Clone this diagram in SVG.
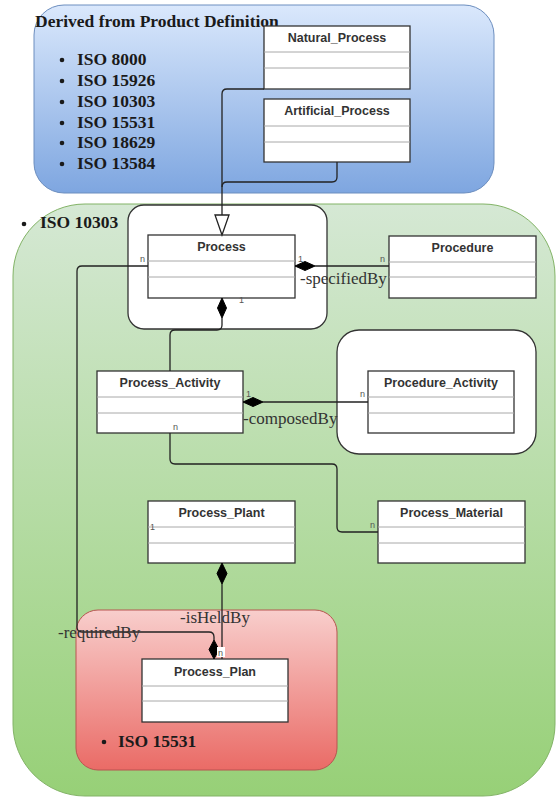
<svg xmlns="http://www.w3.org/2000/svg" width="557" height="797" viewBox="0 0 557 797">
  <defs>
    <linearGradient id="gBlue" x1="0" y1="0" x2="0" y2="1">
      <stop offset="0" stop-color="#dae8fc"/>
      <stop offset="1" stop-color="#7ea6e0"/>
    </linearGradient>
    <linearGradient id="gGreen" x1="0" y1="0" x2="0" y2="1">
      <stop offset="0" stop-color="#d5e8d4"/>
      <stop offset="1" stop-color="#97d077"/>
    </linearGradient>
    <linearGradient id="gRed" x1="0" y1="0" x2="0" y2="1">
      <stop offset="0" stop-color="#f8cecc"/>
      <stop offset="1" stop-color="#ea6b66"/>
    </linearGradient>
  </defs>
  <style>
    .box { fill: #ffffff; stroke: #333333; stroke-width: 1.3; }
    .div { stroke: #a8a8a8; stroke-width: 1; }
    .title { font-family: "Liberation Sans", Arial, sans-serif; font-weight: bold; font-size: 12.5px; fill: #333333; text-anchor: middle; }
    .hdr { font-family: "Liberation Serif", "Times New Roman", serif; font-weight: bold; font-size: 17.5px; fill: #1a1a1a; }
    .role { font-family: "Liberation Serif", "Times New Roman", serif; font-size: 17px; fill: #333333; }
    .mult { font-family: "Liberation Sans", Arial, sans-serif; font-size: 9px; fill: #555555; }
    .wire { fill: none; stroke: #222222; stroke-width: 1.3; }
    .dia { fill: #000000; stroke: #000000; stroke-width: 1; }
    .frame { fill: #ffffff; stroke: #333333; stroke-width: 1.3; }
  </style>

  <!-- Containers -->
  <g id="product-definition">
    <rect x="34" y="5" width="460" height="188" rx="30" fill="url(#gBlue)" stroke="#6c8ebf" stroke-width="1"/>
    <text class="hdr" x="35" y="27">Derived from Product Definition</text>
    <g class="hdr">
      <text x="77" y="65">ISO 8000</text>
      <text x="77" y="86">ISO 15926</text>
      <text x="77" y="107">ISO 10303</text>
      <text x="77" y="128">ISO 15531</text>
      <text x="77" y="148">ISO 18629</text>
      <text x="77" y="169">ISO 13584</text>
    </g>
    <g fill="#1a1a1a">
      <circle cx="62" cy="60" r="2.3"/>
      <circle cx="62" cy="81" r="2.3"/>
      <circle cx="62" cy="102" r="2.3"/>
      <circle cx="62" cy="123" r="2.3"/>
      <circle cx="62" cy="143" r="2.3"/>
      <circle cx="62" cy="164" r="2.3"/>
    </g>
  </g>

  <g id="iso10303">
    <rect x="13" y="204" width="542" height="592" rx="72" fill="url(#gGreen)" stroke="#82b366" stroke-width="1"/>
    <circle cx="24" cy="224" r="2.3" fill="#1a1a1a"/>
    <text class="hdr" x="40" y="228">ISO 10303</text>
  </g>

  <g id="process-frame">
    <rect class="frame" x="128" y="205" width="199" height="124" rx="16"/>
  </g>
  <g id="procedure-activity-frame">
    <rect class="frame" x="337" y="330" width="199" height="124" rx="22"/>
  </g>

  <g id="iso15531">
    <rect x="76" y="610" width="261" height="160" rx="22" fill="url(#gRed)" stroke="#b85450" stroke-width="1"/>
    <circle cx="104" cy="742" r="2.3" fill="#1a1a1a"/>
    <text class="hdr" x="118" y="747">ISO 15531</text>
  </g>

  <!-- Classes -->
  <g id="natural-process">
    <rect class="box" x="264" y="26" width="146" height="63"/>
    <line class="div" x1="264" y1="52" x2="410" y2="52"/>
    <line class="div" x1="264" y1="68" x2="410" y2="68"/>
    <text class="title" x="337" y="42">Natural_Process</text>
  </g>
  <g id="artificial-process">
    <rect class="box" x="264" y="99" width="146" height="63"/>
    <line class="div" x1="264" y1="126" x2="410" y2="126"/>
    <line class="div" x1="264" y1="142" x2="410" y2="142"/>
    <text class="title" x="337" y="115">Artificial_Process</text>
  </g>
  <g id="process">
    <rect class="box" x="148" y="235" width="147" height="63"/>
    <line class="div" x1="148" y1="261" x2="295" y2="261"/>
    <line class="div" x1="148" y1="277" x2="295" y2="277"/>
    <text class="title" x="221.5" y="251">Process</text>
  </g>
  <g id="procedure">
    <rect class="box" x="389" y="236" width="147" height="62"/>
    <line class="div" x1="389" y1="262" x2="536" y2="262"/>
    <line class="div" x1="389" y1="277" x2="536" y2="277"/>
    <text class="title" x="462.5" y="252">Procedure</text>
  </g>
  <g id="process-activity">
    <rect class="box" x="97" y="371" width="146" height="62"/>
    <line class="div" x1="97" y1="397" x2="243" y2="397"/>
    <line class="div" x1="97" y1="413" x2="243" y2="413"/>
    <text class="title" x="170" y="387">Process_Activity</text>
  </g>
  <g id="procedure-activity">
    <rect class="box" x="368" y="371" width="146" height="62"/>
    <line class="div" x1="368" y1="397" x2="514" y2="397"/>
    <line class="div" x1="368" y1="413" x2="514" y2="413"/>
    <text class="title" x="441" y="387">Procedure_Activity</text>
  </g>
  <g id="process-plant">
    <rect class="box" x="148" y="501" width="147" height="62"/>
    <line class="div" x1="148" y1="527" x2="295" y2="527"/>
    <line class="div" x1="148" y1="543" x2="295" y2="543"/>
    <text class="title" x="221.5" y="517">Process_Plant</text>
  </g>
  <g id="process-material">
    <rect class="box" x="378" y="501" width="147" height="62"/>
    <line class="div" x1="378" y1="527" x2="525" y2="527"/>
    <line class="div" x1="378" y1="543" x2="525" y2="543"/>
    <text class="title" x="451.5" y="517">Process_Material</text>
  </g>
  <g id="process-plan">
    <rect class="box" x="142" y="659" width="146" height="63"/>
    <line class="div" x1="142" y1="686" x2="288" y2="686"/>
    <line class="div" x1="142" y1="701" x2="288" y2="701"/>
    <text class="title" x="215" y="676">Process_Plan</text>
  </g>

  <!-- Connectors -->
  <g id="connectors">
    <!-- generalisation into Process -->
    <path class="wire" d="M264,89 L227,89 Q222,89 222,94 L222,215"/>
    <path class="wire" d="M337,162 L337,177 Q337,182 332,182 L227,182 Q222,182 222,187"/>
    <polygon points="215,215 229,215 222,235" fill="#ffffff" stroke="#222222" stroke-width="1.3"/>

    <!-- Process 1 - n Procedure -->
    <path class="wire" d="M315,266 L389,266"/>
    <polygon class="dia" points="295,266 305,261.5 315,266 305,270.5"/>
    <text class="mult" x="298" y="262">1</text>
    <text class="mult" x="380" y="262">n</text>
    <text class="role" x="300" y="284">-specifiedBy</text>

    <!-- Process 1 - Process_Activity -->
    <path class="wire" d="M222,318 L222,325 Q222,330 217,330 L175,330 Q170,330 170,335 L170,371"/>
    <polygon class="dia" points="222,298 226.5,308 222,318 217.5,308"/>
    <text class="mult" x="239" y="303">1</text>

    <!-- Process_Activity 1 - n Procedure_Activity -->
    <path class="wire" d="M263,402 L368,402"/>
    <polygon class="dia" points="243,402 253,397.5 263,402 253,406.5"/>
    <text class="mult" x="246" y="397">1</text>
    <text class="mult" x="360" y="397">n</text>
    <text class="role" x="243" y="424">-composedBy</text>

    <!-- Process_Activity n - n Process_Material -->
    <path class="wire" d="M170,433 L170,459 Q170,464 175,464 L332,464 Q337,464 337,469 L337,527 Q337,532 342,532 L378,532"/>
    <text class="mult" x="173" y="430">n</text>
    <text class="mult" x="370" y="528">n</text>

    <!-- Process_Plant 1 - n Process_Plan -->
    <path class="wire" d="M222,584 L222,659"/>
    <polygon class="dia" points="222,563 227,573.5 222,584 217,573.5"/>
    <text class="mult" x="150" y="530">1</text>
    <text class="role" x="180" y="623">-isHeldBy</text>

    <!-- Process n - Process_Plan -->
    <path class="wire" d="M148,266 L82,266 Q77,266 77,271 L77,627 Q77,632 82,632 L209,632 Q214,632 214,637 L214,640"/>
    <polygon class="dia" points="214,640 219,649.5 214,659 209,649.5"/>
    <text class="mult" x="140" y="262">n</text>
    <text class="role" x="58" y="638">-requiredBy</text>
    <rect x="217" y="647" width="8" height="10" fill="#ffffff"/>
    <text class="mult" x="218" y="656">n</text>
  </g>
</svg>
